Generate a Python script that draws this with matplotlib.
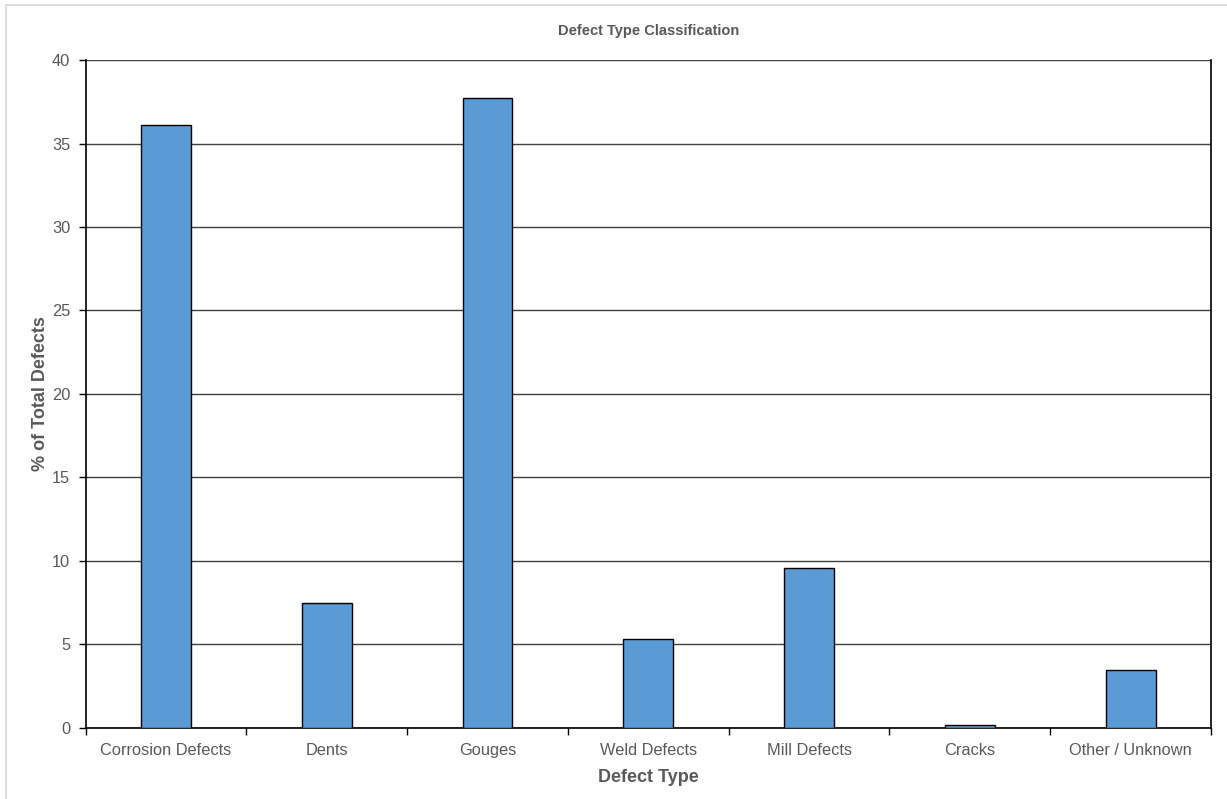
import numpy as np
import matplotlib.pyplot as plt
from matplotlib.patches import Rectangle

# ===================== 数据 =====================
categories = ["Corrosion Defects", "Dents", "Gouges", "Weld Defects",
              "Mill Defects", "Cracks", "Other / Unknown"]
pct_defects = [36.1, 7.5, 37.7, 5.3, 9.6, 0.2, 3.45]

plt.rcParams['font.family'] = ['Liberation Sans', 'DejaVu Sans']
TXT = '#595959'

fig = plt.figure(figsize=(12.27, 7.99), dpi=100)
ax = fig.add_axes([0.0697, 0.0889, 0.9173, 0.8360])

# 外框
fig.patches.append(Rectangle((0.005, -0.01), 1.0, 1.004, transform=fig.transFigure,
                             fill=False, edgecolor='#d9d9d9', linewidth=1.2))

x = np.arange(len(categories))
ax.bar(x, pct_defects, width=0.31, color='#5b9bd5', edgecolor='black', linewidth=1.0, zorder=3)

ax.set_xlim(-0.5, len(categories) - 0.5)
ax.set_ylim(0, 40)
ax.set_yticks(np.arange(0, 41, 5))
ax.yaxis.grid(True, color='#404040', linewidth=1.0, zorder=0)
ax.set_axisbelow(True)

ax.set_xticks(x)
ax.set_xticklabels(categories, fontsize=11.8, color=TXT)
ax.set_xticks(np.arange(-0.5, len(categories), 1), minor=True)
ax.tick_params(axis='x', which='major', length=0, pad=10.5)
ax.tick_params(axis='x', which='minor', length=5, width=1, color='black', direction='out')
ax.tick_params(axis='y', length=5, width=1, color='black', direction='out', labelsize=11.8, labelcolor=TXT, pad=6)

for s in ['left', 'right', 'bottom']:
    ax.spines[s].set_color('black')
    ax.spines[s].set_linewidth(1.2)
ax.spines['top'].set_visible(False)

ax.set_xlabel("Defect Type", fontsize=13, fontweight='bold', color=TXT, labelpad=8.5)
ax.set_ylabel("% of Total Defects", fontsize=13, fontweight='bold', color=TXT, labelpad=2)
ax.set_title("Defect Type Classification", fontsize=10.5, fontweight='bold', color=TXT, pad=18)

fig.savefig("out.png", dpi=100)
